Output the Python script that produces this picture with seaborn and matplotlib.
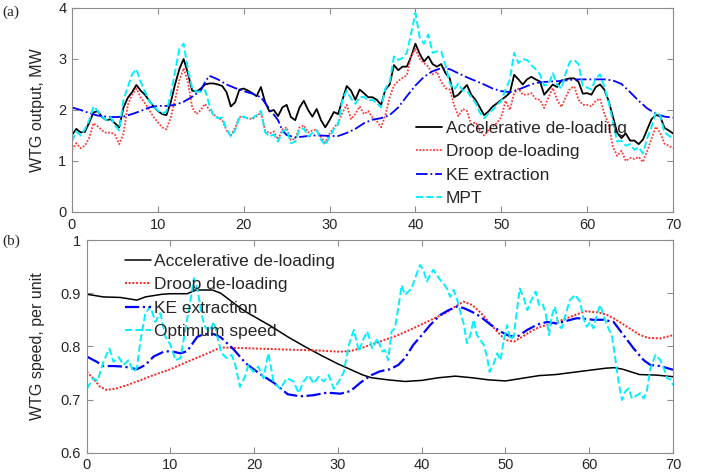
import numpy as np
import pandas as pd
import matplotlib
matplotlib.use("Agg")
import matplotlib.pyplot as plt
import seaborn as sns

# ---- (a) WTG output, MW : sampled every 0.5 s ----
T_P = np.arange(0, 70.5, 0.5)
ACC_P = [1.51, 1.63, 1.56, 1.57, 1.75, 1.95, 1.98, 1.86, 1.80, 1.82,
         1.74, 1.66, 2.05, 2.24, 2.35, 2.49, 2.38, 2.30, 2.18, 2.07,
         1.98, 1.92, 1.90, 2.15, 2.50, 2.80, 3.00, 2.72, 2.38, 2.36,
         2.42, 2.50, 2.52, 2.52, 2.50, 2.47, 2.35, 2.07, 2.15, 2.40,
         2.42, 2.38, 2.33, 2.27, 2.45, 2.15, 1.97, 2.00, 1.88, 2.05,
         2.10, 1.86, 1.80, 2.05, 2.18, 2.00, 1.87, 2.02, 1.80, 1.66,
         1.80, 1.96, 1.92, 2.20, 2.47, 2.38, 2.20, 2.40, 2.33, 2.25,
         2.25, 2.20, 2.10, 2.40, 2.50, 2.88, 2.78, 2.85, 2.85, 3.05,
         3.30, 3.10, 2.95, 3.05, 2.90, 2.85, 2.90, 2.72, 2.62, 2.25,
         2.30, 2.40, 2.49, 2.30, 2.20, 2.05, 1.90, 1.97, 2.07, 2.13,
         2.20, 2.26, 2.34, 2.69, 2.60, 2.50, 2.60, 2.65, 2.60, 2.56,
         2.30, 2.40, 2.50, 2.45, 2.58, 2.60, 2.62, 2.62, 2.55, 2.32,
         2.33, 2.30, 2.45, 2.50, 2.40, 2.18, 1.87, 1.55, 1.45, 1.54,
         1.40, 1.40, 1.33, 1.42, 1.62, 1.82, 1.90, 1.88, 1.65, 1.60,
         1.54]
DROOP_P = [1.22, 1.35, 1.25, 1.30, 1.45, 1.74, 1.68, 1.60, 1.55, 1.56,
           1.52, 1.33, 1.54, 2.10, 2.30, 2.42, 2.25, 2.13, 2.00, 1.86,
           1.76, 1.66, 1.62, 1.85, 2.20, 2.58, 2.82, 2.55, 2.05, 1.92,
           2.00, 2.12, 2.00, 1.91, 1.85, 1.80, 1.60, 1.50, 1.65, 1.86,
           1.86, 1.84, 1.82, 1.88, 1.95, 1.60, 1.54, 1.58, 1.42, 1.62,
           1.66, 1.41, 1.44, 1.66, 1.70, 1.56, 1.60, 1.62, 1.47, 1.36,
           1.54, 1.65, 1.75, 1.95, 2.10, 1.82, 1.92, 2.07, 1.92, 1.98,
           1.85, 1.78, 1.66, 1.90, 2.25, 2.48, 2.57, 2.63, 2.68, 3.05,
           3.20, 3.00, 2.92, 2.85, 2.70, 2.75, 2.55, 2.43, 2.40, 2.10,
           1.88, 2.02, 1.98, 1.72, 1.76, 1.60, 1.50, 1.60, 1.67, 1.75,
           1.86, 2.18, 2.00, 2.33, 2.42, 2.30, 2.30, 2.33, 2.22, 2.20,
           2.04, 2.25, 2.43, 2.20, 2.06, 2.25, 2.42, 2.46, 2.20, 2.10,
           2.10, 2.07, 2.18, 2.22, 1.93, 1.72, 1.28, 1.10, 1.20, 1.00,
           1.06, 1.04, 1.08, 0.98, 1.20, 1.44, 1.67, 1.56, 1.34, 1.30,
           1.25]
MPT_P = [1.38, 1.58, 1.50, 1.62, 1.80, 2.07, 1.98, 1.87, 1.80, 1.86,
         1.70, 1.60, 2.20, 2.45, 2.70, 2.80, 2.55, 2.36, 2.18, 2.07,
         1.99, 1.93, 1.97, 2.30, 2.75, 3.20, 3.30, 2.80, 2.42, 2.36,
         2.36, 2.39, 2.10, 1.88, 1.84, 1.85, 1.62, 1.48, 1.60, 1.87,
         1.87, 1.83, 1.84, 1.90, 1.98, 1.56, 1.48, 1.52, 1.38, 1.58,
         1.62, 1.35, 1.38, 1.62, 1.64, 1.48, 1.55, 1.60, 1.42, 1.31,
         1.48, 1.62, 1.72, 2.20, 2.38, 2.22, 2.12, 2.25, 2.26, 2.18,
         2.20, 2.14, 2.05, 2.42, 2.55, 3.05, 2.98, 3.02, 3.12, 3.50,
         3.90, 3.42, 3.30, 3.48, 3.12, 3.15, 3.15, 2.88, 2.52, 2.40,
         2.52, 2.38, 2.38, 2.25, 2.14, 1.95, 1.84, 1.93, 2.00, 2.10,
         2.18, 2.40, 2.60, 3.12, 2.92, 3.00, 2.98, 2.88, 2.80, 2.70,
         2.48, 2.50, 2.72, 2.50, 2.42, 2.72, 2.95, 2.98, 2.90, 2.46,
         2.44, 2.40, 2.62, 2.70, 2.45, 2.16, 1.77, 1.38, 1.40, 1.30,
         1.33, 1.22, 1.27, 1.15, 1.45, 1.67, 1.95, 1.90, 1.56, 1.50,
         1.44]
T_KE_P = [0, 1, 2, 3, 4, 5, 6, 7, 8, 9, 10, 11, 12, 13, 14, 15, 15.5, 16, 17,
          18, 19, 20, 21, 22, 23, 24, 24.5, 25, 26, 27, 28, 29, 30, 31, 32, 33,
          34, 35, 36, 37, 38, 39, 40, 41, 42, 43, 44, 45, 46, 47, 48, 49, 50,
          51, 52, 53, 54, 55, 56, 57, 58, 59, 60, 61, 62, 63, 64, 65, 66, 67,
          68, 69, 70]
KE_P = [2.05, 2.00, 1.94, 1.89, 1.87, 1.86, 1.87, 1.92, 1.98, 2.05, 2.08, 2.08,
        2.10, 2.16, 2.26, 2.38, 2.55, 2.67, 2.60, 2.50, 2.43, 2.37, 2.32, 2.25,
        2.02, 1.80, 1.60, 1.51, 1.46, 1.48, 1.50, 1.50, 1.49, 1.49, 1.55, 1.63,
        1.74, 1.81, 1.84, 1.90, 2.05, 2.27, 2.48, 2.65, 2.76, 2.82, 2.80, 2.72,
        2.64, 2.57, 2.50, 2.42, 2.37, 2.35, 2.40, 2.47, 2.53, 2.55, 2.56, 2.57,
        2.59, 2.60, 2.60, 2.60, 2.60, 2.58, 2.51, 2.35, 2.18, 2.03, 1.93, 1.87,
        1.85]

# ---- (b) WTG speed, per unit ----
T_ACC_W = [0, 2, 4, 6, 7, 9, 10, 12, 13, 15, 16, 17, 18, 19, 20, 22, 24, 26,
           28, 30, 32, 33, 34, 36, 38, 40, 42, 44, 46, 48, 50, 52, 54, 56, 58,
           60, 62, 63, 64, 66, 68, 70]
ACC_W = [0.898, 0.893, 0.892, 0.887, 0.893, 0.898, 0.899, 0.899, 0.906, 0.906,
         0.900, 0.888, 0.876, 0.865, 0.856, 0.838, 0.818, 0.800, 0.783, 0.767,
         0.753, 0.746, 0.741, 0.737, 0.734, 0.736, 0.741, 0.744, 0.741, 0.737,
         0.735, 0.740, 0.745, 0.747, 0.751, 0.755, 0.759, 0.760, 0.757, 0.747,
         0.746, 0.743]
T_DROOP_W = [0, 0.6, 1.6, 2.4, 3.6, 4.8, 6, 8, 10, 12, 14, 16, 18, 20, 22, 24,
             26, 28, 30, 31.5, 33, 35, 37, 39, 41, 43, 44, 45, 46, 47, 48, 49,
             50, 51, 52, 53, 54, 56, 58, 59.5, 61, 62, 63, 64, 65, 66, 67, 68.5,
             70]
DROOP_W = [0.752, 0.743, 0.724, 0.718, 0.721, 0.727, 0.734, 0.746, 0.757, 0.771,
           0.784, 0.798, 0.797, 0.796, 0.795, 0.794, 0.793, 0.792, 0.790, 0.791,
           0.798, 0.809, 0.820, 0.834, 0.849, 0.864, 0.875, 0.884, 0.878, 0.864,
           0.846, 0.828, 0.812, 0.809, 0.818, 0.828, 0.836, 0.845, 0.857, 0.866,
           0.864, 0.860, 0.852, 0.842, 0.832, 0.822, 0.816, 0.815, 0.821]
T_KE_W = [0, 1.2, 2, 3.2, 4.4, 6, 7, 8, 9.2, 10, 11.2, 12, 13.2, 14, 15.2, 16,
          17.5, 19, 20.7, 22.3, 24, 25.5, 27, 28.7, 30.3, 31.5, 32.7, 34, 35,
          36.2, 37.2, 38, 39, 40, 41, 42.2, 43.2, 44.2, 45, 46, 47, 48.2, 49.4,
          50.4, 51.4, 52.6, 53.8, 55, 56.1, 57.3, 58.5, 59.3, 60.5, 61.7, 62.9,
          64.1, 65.3, 66.5, 67.3, 68.5, 70]
KE_W = [0.781, 0.771, 0.763, 0.763, 0.762, 0.757, 0.765, 0.781, 0.790, 0.791,
        0.787, 0.791, 0.818, 0.823, 0.823, 0.817, 0.795, 0.768, 0.748, 0.732,
        0.710, 0.706, 0.708, 0.713, 0.711, 0.716, 0.732, 0.746, 0.753, 0.757,
        0.765, 0.778, 0.803, 0.821, 0.840, 0.859, 0.868, 0.875, 0.872, 0.865,
        0.856, 0.841, 0.828, 0.820, 0.818, 0.831, 0.841, 0.846, 0.843, 0.848,
        0.853, 0.852, 0.850, 0.850, 0.846, 0.821, 0.796, 0.774, 0.765, 0.763,
        0.756]
T_OPT_W = [0, 0.8, 1.3, 2, 2.7, 3.2, 3.8, 4.4, 5, 5.6, 6, 6.4, 7, 7.6, 8.2, 8.8,
           9.4, 10, 10.6, 11.2, 11.8, 12.4, 12.8, 13.2, 13.6, 14, 14.6, 15.2,
           15.6, 16.1, 16.7, 17.3, 17.7, 18.3, 18.9, 19.3, 19.9, 20.5, 21.1,
           21.7, 22.3, 23.1, 23.9, 24.7, 25.3, 25.9, 26.5, 27.1, 27.7, 28.3,
           28.9, 29.5, 30.1, 30.7, 31.3, 31.9, 32.5, 32.9, 33.5, 34.1, 34.7,
           35.3, 35.6, 36, 36.4, 36.8, 37.2, 37.6, 38, 38.4, 38.8, 39.2, 39.8,
           40.2, 40.6, 41, 41.4, 41.8, 42.2, 42.6, 43, 43.4, 43.8, 44.2, 44.6,
           45, 45.4, 45.8, 46.2, 46.6, 47, 47.4, 47.8, 48.1, 48.6, 49, 49.4,
           49.8, 50.2, 50.6, 51, 51.4, 51.7, 52.2, 52.6, 53, 53.6, 54, 54.4,
           54.8, 55.2, 55.5, 55.9, 56.3, 56.7, 57.1, 57.7, 58.3, 58.9, 59.3,
           59.7, 60.1, 60.5, 60.9, 61.3, 61.7, 62.1, 62.7, 63.1, 63.5, 63.9,
           64.3, 64.7, 65.1, 65.5, 66.1, 66.5, 66.9, 67.3, 67.9, 68.5, 68.9,
           69.3, 69.7, 70]
OPT_W = [0.720, 0.740, 0.735, 0.771, 0.796, 0.771, 0.780, 0.765, 0.774, 0.752,
         0.760, 0.809, 0.862, 0.875, 0.846, 0.862, 0.818, 0.803, 0.774, 0.778,
         0.834, 0.887, 0.928, 0.909, 0.872, 0.840, 0.828, 0.846, 0.818, 0.787,
         0.778, 0.784, 0.768, 0.724, 0.743, 0.765, 0.752, 0.762, 0.740, 0.787,
         0.734, 0.720, 0.740, 0.734, 0.712, 0.734, 0.746, 0.730, 0.743, 0.734,
         0.746, 0.720, 0.734, 0.752, 0.803, 0.831, 0.790, 0.809, 0.828, 0.796,
         0.815, 0.790, 0.793, 0.774, 0.828, 0.834, 0.872, 0.915, 0.897, 0.903,
         0.909, 0.928, 0.953, 0.944, 0.922, 0.934, 0.944, 0.934, 0.925, 0.918,
         0.909, 0.893, 0.906, 0.890, 0.865, 0.843, 0.806, 0.821, 0.850, 0.821,
         0.812, 0.803, 0.780, 0.752, 0.768, 0.787, 0.774, 0.812, 0.840, 0.812,
         0.821, 0.872, 0.909, 0.890, 0.868, 0.884, 0.903, 0.878, 0.881, 0.862,
         0.821, 0.856, 0.875, 0.840, 0.834, 0.856, 0.887, 0.897, 0.884, 0.853,
         0.837, 0.846, 0.834, 0.859, 0.878, 0.859, 0.840, 0.821, 0.778, 0.734,
         0.699, 0.715, 0.721, 0.702, 0.706, 0.712, 0.702, 0.718, 0.759, 0.784,
         0.774, 0.759, 0.740, 0.738, 0.727]

sns.set_style("ticks")
plt.rcParams["font.family"] = ["Liberation Sans", "DejaVu Sans"]

SPINE = "#8c8c8c"
TXT = "#262626"
DOT = (0, (1, 0.9))

fig = plt.figure(figsize=(7.1, 4.75), dpi=100)
ax1 = fig.add_axes([0.1014, 0.5537, 0.8465, 0.4295])
ax2 = fig.add_axes([0.1221, 0.0469, 0.8258, 0.4478])

top = [
    (T_P, ACC_P, "Accelerative de-loading", "black", "-", 1.3),
    (T_P, DROOP_P, "Droop de-loading", "#ff3a3a", DOT, 1.3),
    (T_KE_P, KE_P, "KE extraction", "#0000ff", "-.", 1.3),
    (T_P, MPT_P, "MPT", "#00f0ff", "--", 1.4),
]
bottom = [
    (T_ACC_W, ACC_W, "Accelerative de-loading", "black", "-", 1.1),
    (T_DROOP_W, DROOP_W, "Droop de-loading", "#ff2020", DOT, 1.4),
    (T_KE_W, KE_W, "KE extraction", "#0000ff", "-.", 1.6),
    (T_OPT_W, OPT_W, "Optimum speed", "#00f0ff", "--", 1.4),
]

for ax, series in [(ax1, top), (ax2, bottom)]:
    for t, v, lab, col, ls, lw in series:
        df = pd.DataFrame({"time": t, "value": v})
        sns.lineplot(data=df, x="time", y="value", ax=ax, color=col,
                     linestyle=ls, linewidth=lw, label=lab)
    ax.set_xlim(0, 70)
    ax.set_xticks(range(0, 71, 10))
    ax.set_xlabel("")
    ax.tick_params(direction="in", top=True, right=True, length=4, width=0.8,
                   color=SPINE, labelcolor=TXT, labelsize=10.5, pad=4)
    for s in ax.spines.values():
        s.set_color(SPINE)
        s.set_linewidth(0.8)

ax1.set_ylim(0, 4)
ax1.set_yticks([0, 1, 2, 3, 4])
ax1.set_ylabel("WTG output, MW", fontsize=11.5, color=TXT)
ax1.yaxis.set_label_coords(-0.045, 0.5)

ax2.set_ylim(0.6, 1)
ax2.set_yticks([0.6, 0.7, 0.8, 0.9, 1.0])
ax2.set_yticklabels(["0.6", "0.7", "0.8", "0.9", "1"])
ax2.set_ylabel("WTG speed, per unit", fontsize=11.5, color=TXT)
ax2.yaxis.set_label_coords(-0.071, 0.5)

leg_kw = dict(frameon=False, fontsize=12.5, handlelength=1.5,
              handletextpad=0.2, labelspacing=0.47, borderpad=0,
              borderaxespad=0, loc="upper left", bbox_transform=fig.transFigure)
ax1.legend(bbox_to_anchor=(0.586, 0.7455), **leg_kw)
ax2.legend(bbox_to_anchor=(0.176, 0.4655), **leg_kw)

fig.text(0.004, 0.975, "(a)", fontsize=11, va="center",
         family=["Liberation Serif", "DejaVu Serif"])
fig.text(0.004, 0.493, "(b)", fontsize=11, va="center",
         family=["Liberation Serif", "DejaVu Serif"])

fig.savefig("out.png", dpi=100)
